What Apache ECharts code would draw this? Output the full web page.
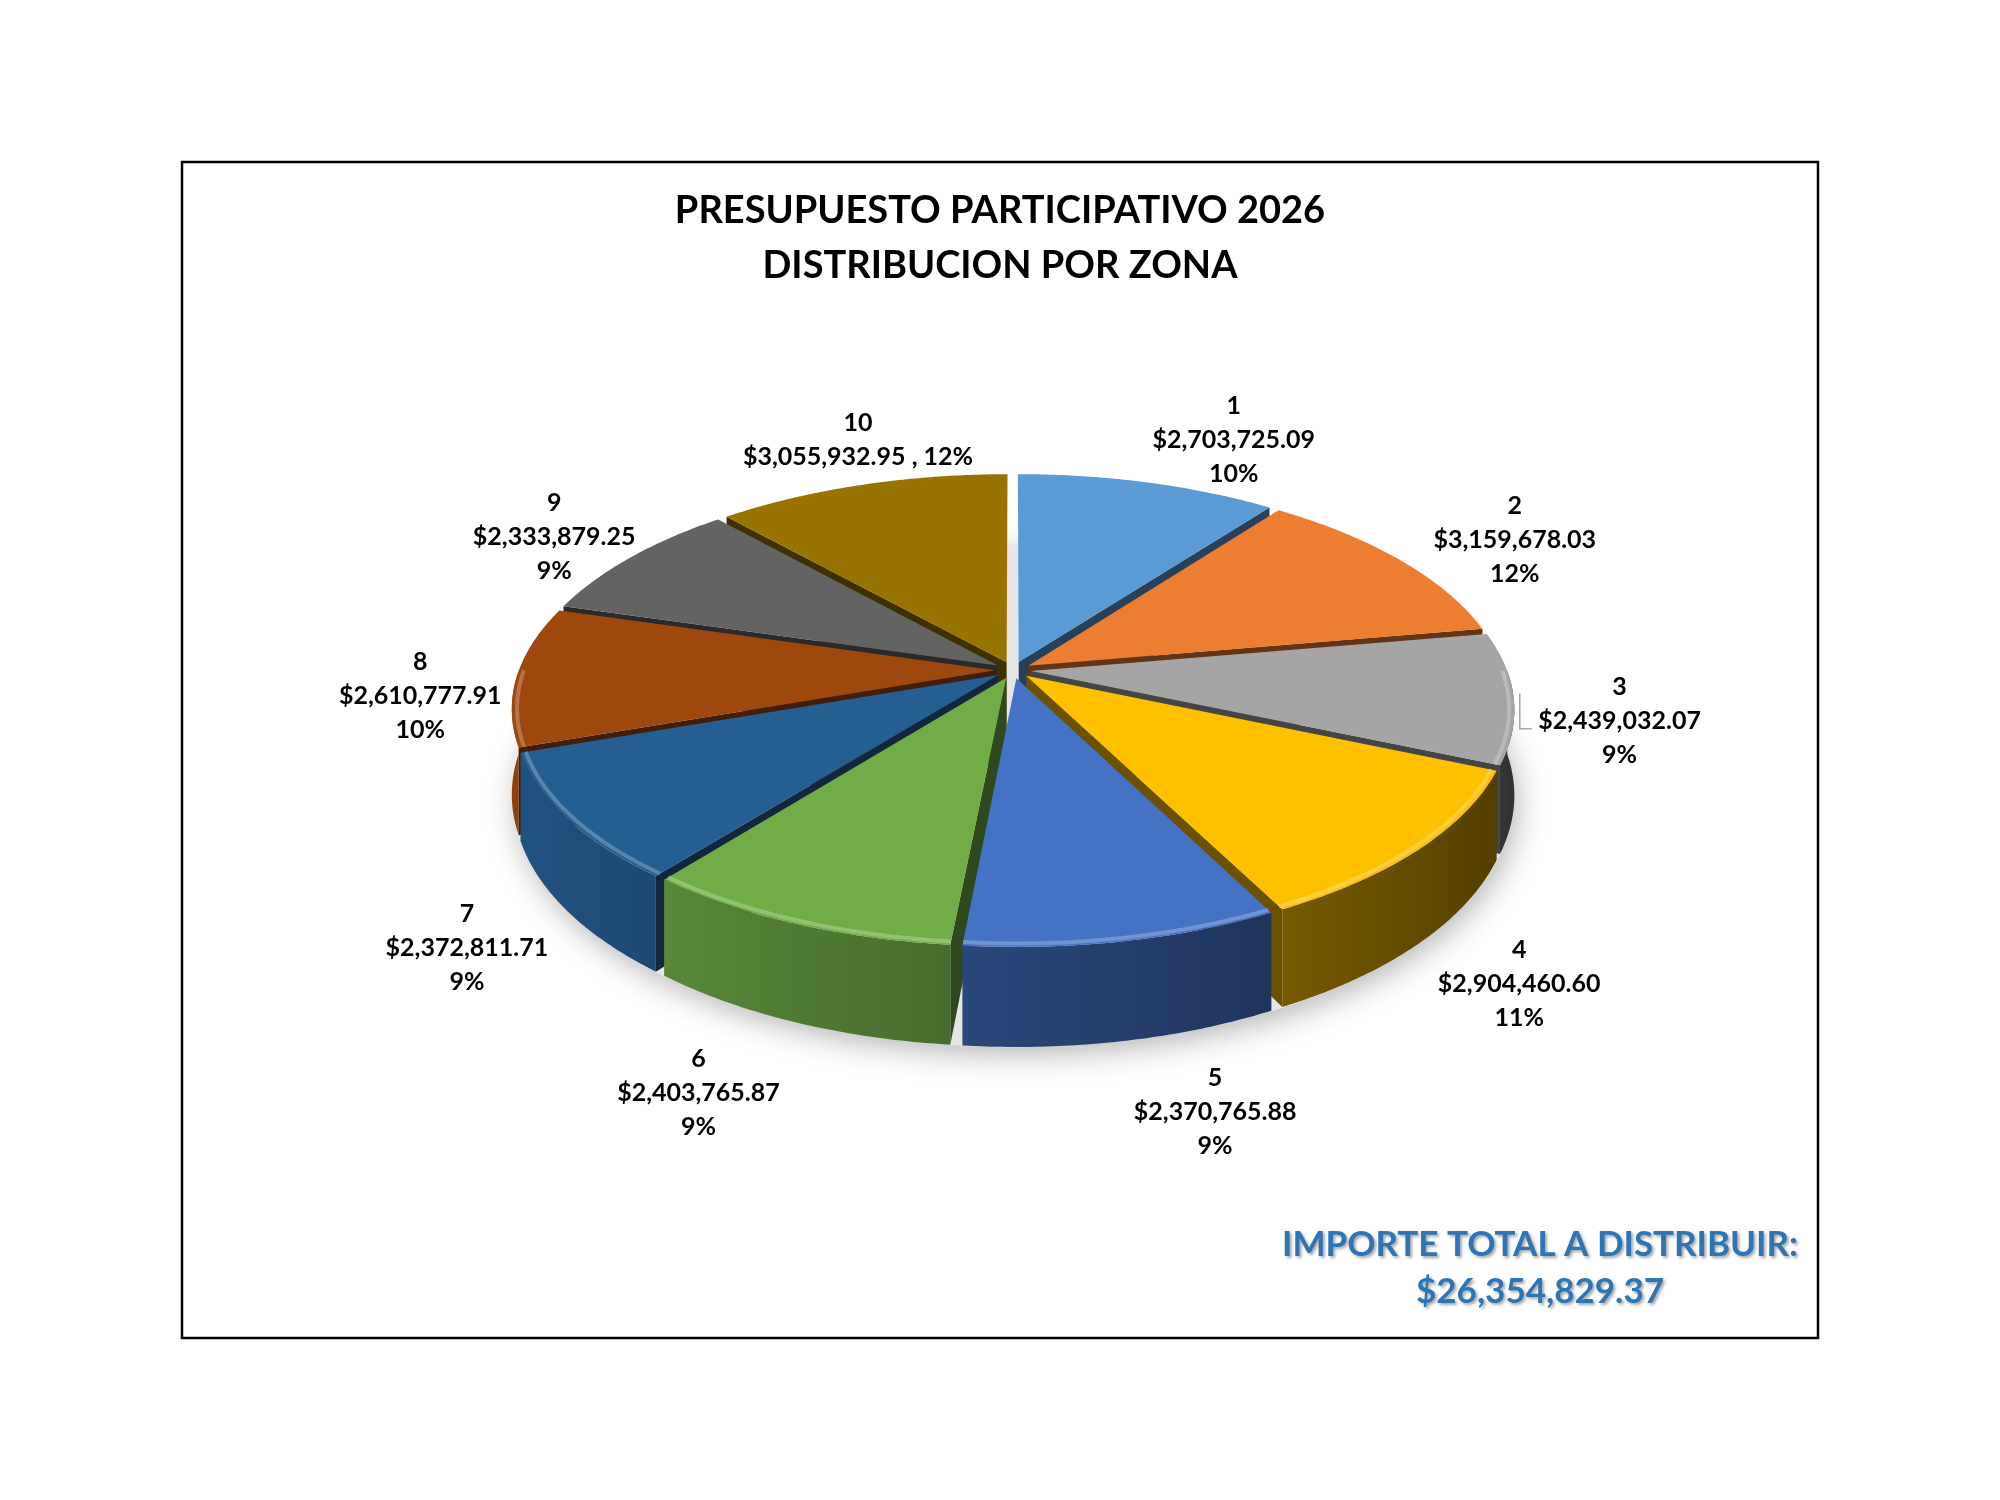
<!DOCTYPE html>
<html>
<head>
<meta charset="utf-8">
<title>Presupuesto participativo 2026</title>
<script src="https://cdn.jsdelivr.net/npm/echarts@6/dist/echarts.min.js"></script>
<style>
html, body { margin: 0; padding: 0; background: #fff; }
#chart { width: 2000px; height: 1500px; }
</style>
</head>
<body>
<div id="chart"></div>
<script>
// datos de la grafica
var zonas = ['1', '2', '3', '4', '5', '6', '7', '8', '9', '10'];
var importes = [2703725.09, 3159678.03, 2439032.07, 2904460.60, 2370765.88,
	2403765.87, 2372811.71, 2610777.91, 2333879.25, 3055932.95];
var importeTotal = 26354829.37;
var colores = ['#5B9BD5', '#ED7D31', '#A5A5A5', '#FFC000', '#4472C4',
	'#70AD47', '#255E91', '#9E480E', '#636363', '#997300'];
// zona cuya etiqueta va en dos renglones (importe y % juntos)
var etiquetaEnLinea = [false, false, false, false, false, false, false, false, false, true];
// ajuste fino de la posicion de cada etiqueta (px)
var ajusteEtiqueta = [[18, -10], [-44, -9], [-29, -1], [40, 12], [83, 10],
	[-76, 15], [-25, 22], [47, 15], [82, -9], [73, -13]];

var CX = 1013, CY = 670, R = 476, EXPLODE = 18;
var TILT = 0.465, PERSP = 0.171, DEPTH = 83;
var TWO_PI = Math.PI * 2;
var FONT = 'Lato, "Open Sans", sans-serif';

var suma = importes.reduce(function(a, b) { return a + b; }, 0);
var acumulado = [0];
for (var k = 0; k < importes.length; k++) {
	acumulado.push(acumulado[k] + importes[k] / suma);
}

// orden de profundidad: primero las rebanadas del fondo
var orden = importes.map(function(v, i) {
	var mid = (acumulado[i] + acumulado[i + 1]) * Math.PI;
	return { i: i, z: -Math.cos(mid) };
}).sort(function(a, b) { return a.z - b.z; });
var rango = [];
orden.forEach(function(o, r) { rango[o.i] = r; });

function money(v) {
	return '$' + v.toLocaleString('en-US', { minimumFractionDigits: 2, maximumFractionDigits: 2 });
}

function proj(phi, r, dx, dz, down) {
	var x = r * Math.sin(phi) + dx;
	var z = -r * Math.cos(phi) + dz;
	var s = 1 / (1 - PERSP * z / (R + EXPLODE));
	return [CX + x * s, CY + z * TILT * s + (down ? DEPTH * s : 0)];
}

function shade(hex, f) {
	var n = parseInt(hex.slice(1), 16);
	var r = Math.min(255, Math.round(((n >> 16) & 255) * f));
	var g = Math.min(255, Math.round(((n >> 8) & 255) * f));
	var b = Math.min(255, Math.round((n & 255) * f));
	return 'rgb(' + r + ',' + g + ',' + b + ')';
}

function lighten(hex, a) {
	var n = parseInt(hex.slice(1), 16);
	var c = [(n >> 16) & 255, (n >> 8) & 255, n & 255].map(function(v) {
		return Math.round(v + (255 - v) * a);
	});
	return 'rgb(' + c.join(',') + ')';
}

function arc(p0, p1, r, dx, dz, down) {
	var pts = [];
	var steps = Math.max(4, Math.ceil((p1 - p0) / 0.01));
	for (var s = 0; s <= steps; s++) {
		pts.push(proj(p0 + (p1 - p0) * s / steps, r, dx, dz, down));
	}
	return pts;
}

function renderSlice(params, api) {
	var i = params.dataIndex;
	var a0 = acumulado[i] * TWO_PI, a1 = acumulado[i + 1] * TWO_PI;
	var mid = (a0 + a1) / 2;
	var dx = EXPLODE * Math.sin(mid), dz = -EXPLODE * Math.cos(mid);
	var color = colores[i];
	var base = 10 + rango[i] * 3;
	var children = [];

	// paredes radiales visibles
	[[a0, Math.sin(a0) < -1e-6], [a1, Math.sin(a1) > 1e-6]].forEach(function(w) {
		if (!w[1]) return;
		children.push({
			type: 'polygon',
			shape: { points: [proj(w[0], 0, dx, dz), proj(w[0], R, dx, dz),
				proj(w[0], R, dx, dz, true), proj(w[0], 0, dx, dz, true)] },
			style: { fill: shade(color, 0.42) },
			z2: base
		});
	});

	// pared exterior (solo la parte del frente)
	var b0 = Math.max(a0, Math.PI / 2), b1 = Math.min(a1, Math.PI * 1.5);
	if (b1 > b0) {
		var top = arc(b0, b1, R, dx, dz, false);
		var bottom = arc(b0, b1, R, dx, dz, true).reverse();
		var xR = top[0][0], xL = top[top.length - 1][0];
		var stops = [];
		for (var s = 0; s <= 6; s++) {
			var phi = b1 - (b1 - b0) * s / 6;
			var px = proj(phi, R, dx, dz)[0];
			var off = xR - xL > 1 ? (px - xL) / (xR - xL) : s / 6;
			stops.push({ offset: Math.max(0, Math.min(1, off)), color: shade(color, 0.6 - 0.3 * Math.sin(phi)) });
		}
		children.push({
			type: 'polygon',
			shape: { points: top.concat(bottom) },
			style: {
				fill: { type: 'linear', x: xL, y: 0, x2: Math.max(xR, xL + 1), y2: 0, global: true, colorStops: stops }
			},
			z2: base + 1
		});
		// brillo en el borde superior
		children.push({
			type: 'polyline',
			shape: { points: arc(b0, b1, R - 5, dx, dz, false) },
			style: { stroke: lighten(color, 0.3), lineWidth: 4, fill: null, opacity: 0.8 },
			z2: 101
		});
	}

	// cara superior
	children.push({
		type: 'polygon',
		shape: { points: [proj(0, 0, dx, dz)].concat(arc(a0, a1, R, dx, dz, false)) },
		style: { fill: color },
		z2: 100
	});

	// etiqueta
	var cosm = Math.cos(mid);
	var lx = CX + 640 * Math.sin(mid) + ajusteEtiqueta[i][0];
	var ly = CY - cosm * (cosm > 0 ? 232 : 440) + ajusteEtiqueta[i][1];
	var pct = Math.round(importes[i] / suma * 100) + '%';
	var texto = etiquetaEnLinea[i]
		? zonas[i] + '\n' + money(importes[i]) + ' , ' + pct
		: zonas[i] + '\n' + money(importes[i]) + '\n' + pct;
	children.push({
		type: 'text',
		x: lx,
		y: ly,
		style: {
			text: texto, align: 'center', verticalAlign: 'middle',
			font: 'bold 25px ' + FONT, fill: '#000', lineHeight: 34
		},
		z2: 200
	});

	// linea guia de la zona 3
	if (i === 2) {
		var rim = proj(mid, R + 4, dx, dz);
		children.push({
			type: 'polyline',
			shape: { points: [[rim[0] + 2, rim[1] - 4], [rim[0] + 2, ly + 8], [rim[0] + 14, ly + 8]] },
			style: { stroke: '#A6A6A6', lineWidth: 1.5, fill: null },
			z2: 200
		});
	}
	return { type: 'group', children: children };
}

var sombra = arc(0, TWO_PI, R + EXPLODE, 0, 0, true);

var chart = echarts.init(document.getElementById('chart'));
chart.setOption({
	backgroundColor: '#fff',
	animation: false,
	title: {
		text: 'PRESUPUESTO PARTICIPATIVO 2026\nDISTRIBUCION POR ZONA',
		left: 'center',
		top: 178,
		textStyle: { fontFamily: FONT, fontWeight: 'bold', fontSize: 38, lineHeight: 55, color: '#000' }
	},
	graphic: [
		{
			type: 'rect', z: -10, silent: true,
			shape: { x: 182, y: 162, width: 1636, height: 1176 },
			style: { fill: 'none', stroke: '#000', lineWidth: 2.5 }
		},
		{
			type: 'polygon', z: 0, silent: true,
			shape: { points: sombra },
			style: { fill: '#E6E6E6', shadowBlur: 30, shadowColor: 'rgba(0,0,0,0.28)', shadowOffsetX: 4, shadowOffsetY: 8 }
		},
		{
			type: 'text', silent: true,
			x: 1540, y: 1268,
			style: {
				text: 'IMPORTE TOTAL A DISTRIBUIR:\n' + money(importeTotal),
				align: 'center', verticalAlign: 'middle',
				font: 'bold 35px ' + FONT, lineHeight: 47, fill: '#2E75B6',
				textShadowColor: 'rgba(0,0,0,0.35)', textShadowBlur: 3, textShadowOffsetX: 2, textShadowOffsetY: 2
			}
		}
	],
	series: [{
		type: 'custom',
		coordinateSystem: 'none',
		silent: true,
		z: 2,
		renderItem: renderSlice,
		data: zonas.map(function(z, i) { return [i, importes[i]]; })
	}]
});
</script>
</body>
</html>
